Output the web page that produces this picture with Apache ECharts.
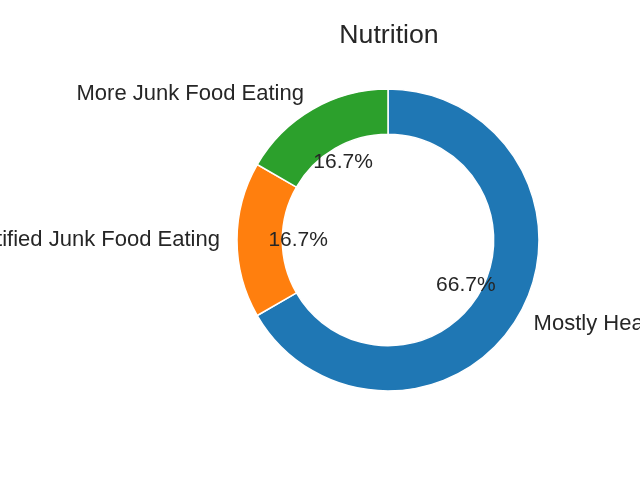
<!DOCTYPE html>
<html>
<head>
<meta charset="utf-8">
<script src="https://cdn.jsdelivr.net/npm/echarts@6/dist/echarts.min.js"></script>
<style>
html,body{margin:0;padding:0;background:#fff;}
#chart{width:640px;height:480px;}
</style>
</head>
<body>
<div id="chart"></div>
<script>
const titleText = 'Nutrition';
const categories = ['Mostly Healthy', 'Justified Junk Food Eating', 'More Junk Food Eating'];
const values = [4, 1, 1];
const colors = ['#1f77b4', '#ff7f0e', '#2ca02c'];

const FONT = '"Liberation Sans", Arial, "DejaVu Sans", sans-serif';
const TEXT = '#262626';
const CX = 388, CY = 240, R = 151;
const total = values.reduce((a, b) => a + b, 0);

const data = categories.map((c, i) => ({ name: c, value: values[i], itemStyle: { color: colors[i] } }));

const chart = echarts.init(document.getElementById('chart'), null, { renderer: 'canvas' });
chart.setOption({
  backgroundColor: '#ffffff',
  animation: false,
  title: {
    text: titleText,
    left: CX - 4,
    textAlign: 'center',
    top: 17,
    textStyle: { fontFamily: FONT, fontSize: 26.7, fontWeight: 'normal', color: TEXT }
  },
  series: [
    {
      type: 'pie',
      center: [CX, CY],
      radius: [R * 0.7, R],
      startAngle: 90,
      clockwise: true,
      avoidLabelOverlap: false,
      silent: true,
      itemStyle: { borderColor: '#ffffff', borderWidth: 1.5 },
      label: {
        show: true,
        position: 'outside',
        formatter: '{b}',
        fontFamily: FONT,
        fontSize: 22,
        color: TEXT,
        distanceToLabelLine: 0,
        alignTo: 'none'
      },
      labelLine: { show: false, length: R * 0.1 + 2, length2: 0 },
      data: data
    },
    {
      type: 'pie',
      center: [CX, CY],
      radius: [R * 0.15, R],
      startAngle: 90,
      clockwise: true,
      avoidLabelOverlap: false,
      silent: true,
      z: 3,
      itemStyle: { color: 'rgba(0,0,0,0)', borderWidth: 0 },
      label: {
        show: true,
        position: 'inside',
        formatter: p => (p.value / total * 100).toFixed(1) + '%',
        fontFamily: FONT,
        fontSize: 21,
        color: TEXT
      },
      labelLine: { show: false },
      data: categories.map((c, i) => ({ name: c, value: values[i] }))
    }
  ]
});
</script>
</body>
</html>
